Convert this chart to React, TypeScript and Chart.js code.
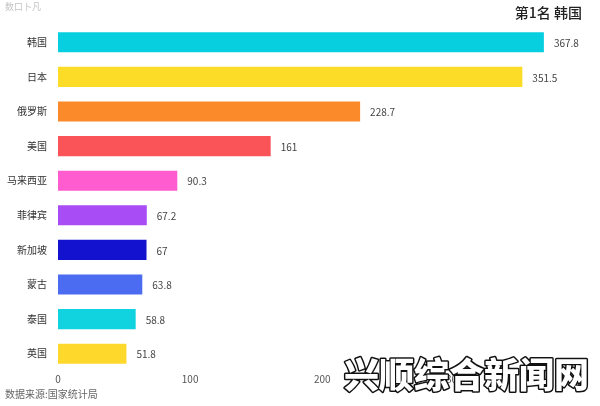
import React, { useEffect, useRef } from "react";
import { Chart, registerables } from "chart.js";

Chart.register(...registerables);

const categories = ["韩国", "日本", "俄罗斯", "美国", "马来西亚", "菲律宾", "新加坡", "蒙古", "泰国", "英国"];
const values = [367.8, 351.5, 228.7, 161, 90.3, 67.2, 67, 63.8, 58.8, 51.8];
const valueLabels = ["367.8", "351.5", "228.7", "161", "90.3", "67.2", "67", "63.8", "58.8", "51.8"];
const barColors = ["#08cfe0", "#fddc27", "#fa8a2a", "#fa5459", "#ff5ccf", "#a84cf5", "#1313cf", "#4b6cf0", "#10d3df", "#fed92b"];
const xTicks = [0, 100, 200, 300];
const titleText = "第1名 韩国";
const sourceText = "数据来源:国家统计局";
const watermarkText = "兴顺综合新闻网";
const topLeftText = "数口卜凡";

const FONT = '"Noto Sans CJK SC", "Noto Sans", sans-serif';

const labelPlugin = {
  id: "extraText",
  afterDatasetsDraw(chart: any) {
    const ctx = chart.ctx;
    const meta = chart.getDatasetMeta(0);
    ctx.save();
    ctx.font = `10px ${FONT}`;
    ctx.fillStyle = "#444";
    ctx.textBaseline = "middle";
    ctx.textAlign = "left";
    meta.data.forEach((bar: any, i: number) => {
      ctx.fillText(valueLabels[i], bar.x + 10, bar.y + 1);
    });
    ctx.restore();
  },
  afterDraw(chart: any) {
    const ctx = chart.ctx;
    ctx.save();
    // title
    ctx.font = `500 14px ${FONT}`;
    ctx.fillStyle = "#222";
    ctx.textAlign = "right";
    ctx.textBaseline = "middle";
    ctx.fillText(titleText, 582, 13);
    // faint top-left
    ctx.font = `9px ${FONT}`;
    ctx.fillStyle = "#c4c4c4";
    ctx.textAlign = "left";
    ctx.fillText(topLeftText, 5, 7);
    // source
    ctx.font = `10px ${FONT}`;
    ctx.fillStyle = "#666";
    ctx.fillText(sourceText, 5, 394);
    // watermark
    ctx.font = `900 35px ${FONT}`;
    ctx.textAlign = "right";
    ctx.textBaseline = "middle";
    ctx.lineJoin = "round";
    ctx.lineWidth = 3;
    ctx.strokeStyle = "#111";
    ctx.strokeText(watermarkText, 589, 375);
    ctx.fillStyle = "#fff";
    ctx.fillText(watermarkText, 589, 375);
    ctx.restore();
  },
};

export default function App() {
  const ref = useRef<HTMLCanvasElement>(null);
  useEffect(() => {
    document.body.style.margin = "0";
    const chart = new Chart(ref.current as HTMLCanvasElement, {
      type: "bar",
      data: {
        labels: categories,
        datasets: [
          {
            data: values,
            backgroundColor: barColors,
            borderWidth: 0,
            barPercentage: 0.58,
            categoryPercentage: 1,
          },
        ],
      },
      options: {
        indexAxis: "y",
        responsive: false,
        animation: false,
        layout: { padding: { left: 0, right: 40, top: 25, bottom: 0 } },
        plugins: { legend: { display: false }, tooltip: { enabled: false } },
        scales: {
          x: {
            min: 0,
            max: 380,
            grid: { display: false, drawTicks: false },
            border: { display: false },
            afterBuildTicks: (s: any) => {
              s.ticks = xTicks.map((v) => ({ value: v }));
            },
            afterFit: (s: any) => {
              s.height = 35;
            },
            ticks: { font: { size: 10, family: FONT }, color: "#555", padding: 2 },
          },
          y: {
            grid: { display: false, drawTicks: false },
            border: { display: false },
            afterFit: (s: any) => {
              s.width = 58;
            },
            ticks: { font: { size: 10, family: FONT }, color: "#333", padding: 11 },
          },
        },
      },
      plugins: [labelPlugin],
    });
    return () => chart.destroy();
  }, []);
  return <canvas ref={ref} width={600} height={406} style={{ display: "block" }} />;
}
